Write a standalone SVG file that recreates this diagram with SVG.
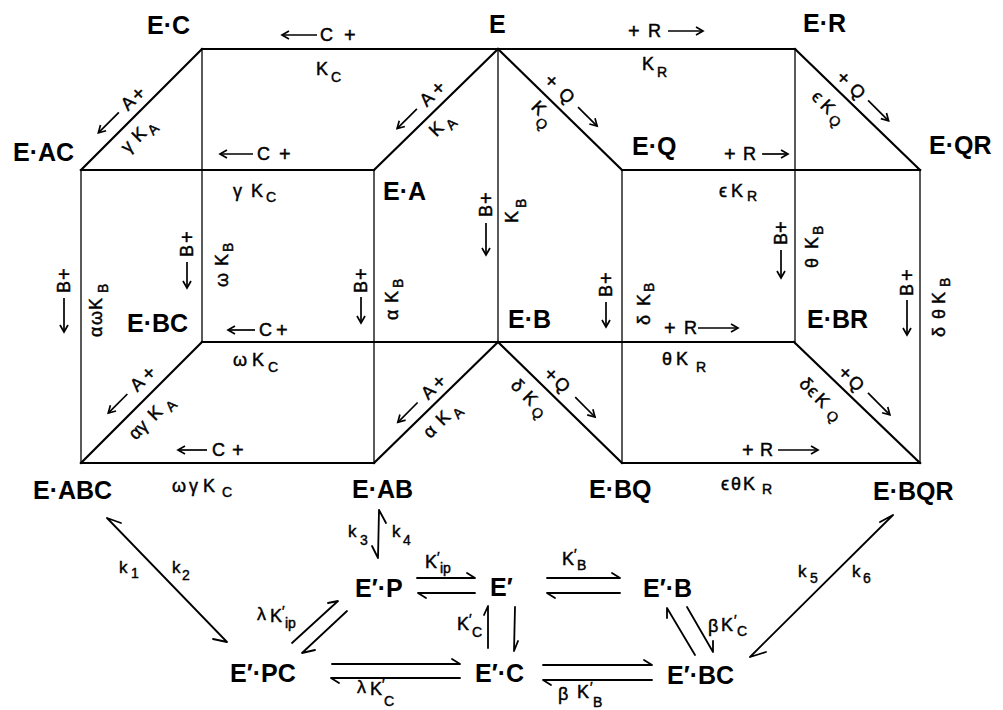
<svg xmlns="http://www.w3.org/2000/svg" width="1003" height="710" viewBox="0 0 1003 710">
<defs>
<style>
 .n{font-family:"Liberation Sans",Arial,sans-serif;font-weight:bold;font-size:25px;fill:#000}
 .t{font-family:"Liberation Sans","DejaVu Sans",sans-serif;font-size:18px;fill:#000;stroke:#000;stroke-width:0.45}
 .s{font-size:14px}
 .p{font-size:14px}
 .pl{font-size:20px}
 .k{font-family:"Liberation Sans",sans-serif;font-size:17px;fill:#000;stroke:#000;stroke-width:0.4}
 .edge{stroke:#000;fill:none;stroke-linecap:square}
 .w{stroke-width:2.2}
 .v{stroke-width:1.3}
 .a{stroke:#000;stroke-width:1.7;fill:none;marker-end:url(#ah)}
 .h{stroke:#000;stroke-width:1.8;fill:none;stroke-linecap:round;stroke-linejoin:round}
</style>
<marker id="ah" viewBox="-9 -5 10 10" refX="0" refY="0" markerWidth="10" markerHeight="10" markerUnits="userSpaceOnUse" orient="auto" overflow="visible">
 <path d="M-7,-4 L0,0 L-7,4" fill="none" stroke="#000" stroke-width="1.7"/>
</marker>
</defs>
<rect width="1003" height="710" fill="#fff"/>

<!-- binding network: edges of the two cubes -->
<g id="connectors">
 <g class="edge w">
  <path d="M202,49 H795"/>
  <path d="M81,170 H374"/>
  <path d="M622,170 H920"/>
  <path d="M202,342 H794"/>
  <path d="M81,463 H374"/>
  <path d="M622,463 H920"/>
  <path d="M202,49 L81,170"/>
  <path d="M498,49 L374,170"/>
  <path d="M498,49 L622,170"/>
  <path d="M795,49 L920,170"/>
  <path d="M202,342 L81,463"/>
  <path d="M498,342 L374,463"/>
  <path d="M498,342 L622,463"/>
  <path d="M794,342 L920,463"/>
 </g>
 <g class="edge v">
  <path d="M202,49 V342"/>
  <path d="M498,49 V342"/>
  <path d="M795,49 V342"/>
  <path d="M81,170 V463"/>
  <path d="M374,170 V463"/>
  <path d="M622,170 V463"/>
  <path d="M920,170 V463"/>
 </g>
 <!-- isomerized-enzyme steps: half-headed reaction arrows -->
 <g class="h">
  <path d="M107,518 L227,642 M107,518 L121,523 M227,642 L213,639"/>
  <path d="M379,510 L378,558 M379,510 L386,523 M378,558 L372,546"/>
  <path d="M417,578 H475 L467,573 M475,593 H418 L426,598"/>
  <path d="M547,578 H620 L612,573 M620,593 H547 L555,598"/>
  <path d="M332,664 H460 L452,659 M460,678 H331 L339,683"/>
  <path d="M543,665 H652 L644,660 M652,680 H543 L551,685"/>
  <path d="M488,648 V606 L484,615 M515,607 L514,651 L518,641"/>
  <path d="M292,643 L338,601 L328,603 M347,611 L302,653 L315,650"/>
  <path d="M695,655 L667,608 L667,618 M687,607 L713,652 L713,641"/>
  <path d="M750,657 L893,515 L880,522 M750,657 L766,652"/>
 </g>
</g>

<!-- edge labels -->
<g id="edge-labels">
 <!-- horizontal: C and R additions -->
 <line class="a" x1="317" y1="35" x2="282" y2="35"/>
 <text class="t"><tspan x="320" y="41">C</tspan><tspan class="pl" x="344" y="42">+</tspan></text>
 <text class="t"><tspan x="316" y="75">K</tspan><tspan class="s" x="331" y="82">C</tspan></text>

 <text class="t"><tspan class="pl" x="628" y="38">+</tspan><tspan x="648" y="37">R</tspan></text>
 <line class="a" x1="668" y1="31" x2="703" y2="31"/>
 <text class="t"><tspan x="642" y="70">K</tspan><tspan class="s" x="657" y="77">R</tspan></text>

 <line class="a" x1="253" y1="154" x2="220" y2="154"/>
 <text class="t"><tspan x="257" y="160">C</tspan><tspan class="pl" x="279" y="161">+</tspan></text>
 <text class="t"><tspan x="233" y="197">γ</tspan><tspan x="251" y="197">K</tspan><tspan class="s" x="266" y="202">C</tspan></text>

 <line class="a" x1="255" y1="330" x2="228" y2="330"/>
 <text class="t"><tspan x="259" y="336">C</tspan><tspan class="pl" x="276" y="337">+</tspan></text>
 <text class="t"><tspan x="233" y="366">ω</tspan><tspan x="252" y="366">K</tspan><tspan class="s" x="268" y="372">C</tspan></text>

 <line class="a" x1="207" y1="450" x2="178" y2="450"/>
 <text class="t"><tspan x="212" y="456">C</tspan><tspan class="pl" x="232" y="457">+</tspan></text>
 <text class="t"><tspan x="172" y="492">ω</tspan><tspan x="189" y="492">γ</tspan><tspan x="203" y="492">K</tspan><tspan class="s" x="222" y="497">C</tspan></text>

 <text class="t"><tspan class="pl" x="724" y="161">+</tspan><tspan x="743" y="160">R</tspan></text>
 <line class="a" x1="762" y1="154" x2="788" y2="154"/>
 <text class="t"><tspan x="719" y="197">ϵ</tspan><tspan x="731" y="197">K</tspan><tspan class="s" x="747" y="201">R</tspan></text>

 <text class="t"><tspan class="pl" x="664" y="335">+</tspan><tspan x="684" y="334">R</tspan></text>
 <line class="a" x1="698" y1="328" x2="738" y2="328"/>
 <text class="t"><tspan x="662" y="365">θ</tspan><tspan x="676" y="365">K</tspan><tspan class="s" x="696" y="372">R</tspan></text>

 <text class="t"><tspan class="pl" x="742" y="457">+</tspan><tspan x="760" y="456">R</tspan></text>
 <line class="a" x1="778" y1="450" x2="818" y2="450"/>
 <text class="t"><tspan x="721" y="490">ϵ</tspan><tspan x="731" y="490">θ</tspan><tspan x="743" y="490">K</tspan><tspan class="s" x="762" y="494">R</tspan></text>

 <!-- diagonal: A additions -->
 <g transform="translate(141.5,109.5) rotate(-45)">
  <line class="a" x1="-18" y1="-14" x2="-47" y2="-14"/>
  <text class="t"><tspan x="-11" y="-8">A</tspan><tspan class="pl" x="3" y="-7">+</tspan></text>
  <text class="t"><tspan x="-41" y="22">γ</tspan><tspan x="-25.5" y="22">K</tspan><tspan class="s" x="-10.5" y="27">A</tspan></text>
 </g>
 <g transform="translate(436,109.5) rotate(-45)">
  <line class="a" x1="-13" y1="-14" x2="-41" y2="-14"/>
  <text class="t"><tspan x="-5" y="-8">A</tspan><tspan class="pl" x="11" y="-7">+</tspan></text>
  <text class="t"><tspan x="-19.5" y="20">K</tspan><tspan class="s" x="-4" y="26">A</tspan></text>
 </g>
 <g transform="translate(141.5,402.5) rotate(-45)">
  <line class="a" x1="-4" y1="-16" x2="-31" y2="-16"/>
  <text class="t"><tspan x="4" y="-10">A</tspan><tspan class="pl" x="20" y="-9">+</tspan></text>
  <text class="t"><tspan x="-31" y="23">α</tspan><tspan x="-21" y="23">γ</tspan><tspan x="-4" y="23">K</tspan><tspan class="s" x="14" y="28">A</tspan></text>
 </g>
 <g transform="translate(436,402.5) rotate(-45)">
  <line class="a" x1="-13" y1="-13" x2="-41" y2="-13"/>
  <text class="t"><tspan x="-4" y="-7">A</tspan><tspan class="pl" x="11" y="-6">+</tspan></text>
  <text class="t"><tspan x="-30" y="22">α</tspan><tspan x="-12" y="22">K</tspan><tspan class="s" x="3.5" y="28">A</tspan></text>
 </g>

 <!-- diagonal: Q additions -->
 <g transform="translate(560,109.5) rotate(45)">
  <text class="t"><tspan class="pl" x="-32" y="-7.5">+</tspan><tspan x="-12" y="-8.5">Q</tspan></text>
  <line class="a" x1="11" y1="-14.5" x2="38" y2="-14.5"/>
  <text class="t"><tspan x="-22" y="20">K</tspan><tspan class="s" x="-8.5" y="28">Q</tspan></text>
 </g>
 <g transform="translate(857.5,109.5) rotate(45)">
  <text class="t"><tspan class="pl" x="-38" y="-6">+</tspan><tspan x="-20" y="-7">Q</tspan></text>
  <line class="a" x1="1" y1="-14" x2="30" y2="-14"/>
  <text class="t"><tspan x="-41.5" y="25">ϵ</tspan><tspan x="-29" y="25">K</tspan><tspan class="s" x="-13.5" y="29">Q</tspan></text>
 </g>
 <g transform="translate(560,402.5) rotate(45)">
  <text class="t"><tspan class="pl" x="-32" y="-7">+</tspan><tspan x="-18" y="-8">Q</tspan></text>
  <line class="a" x1="7" y1="-14.5" x2="35" y2="-14.5"/>
  <text class="t"><tspan x="-47" y="24">δ</tspan><tspan x="-30" y="24">K</tspan><tspan class="s" x="-14" y="28">Q</tspan></text>
 </g>
 <g transform="translate(857,402.5) rotate(45)">
  <text class="t"><tspan class="pl" x="-35" y="-6">+</tspan><tspan x="-21" y="-7">Q</tspan></text>
  <line class="a" x1="1" y1="-14.5" x2="32" y2="-14.5"/>
  <text class="t"><tspan x="-54" y="29">δ</tspan><tspan x="-43" y="29">ϵ</tspan><tspan x="-32" y="29">K</tspan><tspan class="s" x="-13" y="32">Q</tspan></text>
 </g>

 <!-- vertical: B additions -->
 <g transform="translate(70,332) rotate(-90)">
  <line class="a" x1="34" y1="-6" x2="0" y2="-6"/>
  <text class="t"><tspan x="39" y="0">B</tspan><tspan class="pl" x="52" y="1">+</tspan></text>
 </g>
 <g transform="translate(102,337) rotate(-90)">
  <text class="t"><tspan x="0" y="0">α</tspan><tspan x="12" y="0">ω</tspan><tspan x="27" y="0">K</tspan><tspan class="s" x="44" y="6">B</tspan></text>
 </g>
 <g transform="translate(193,288) rotate(-90)">
  <line class="a" x1="26" y1="-6" x2="0" y2="-6"/>
  <text class="t"><tspan x="31" y="0">B</tspan><tspan class="pl" x="45" y="1">+</tspan></text>
 </g>
 <g transform="translate(228,287) rotate(-90)">
  <text class="t"><tspan x="0" y="0">ω</tspan><tspan x="21" y="0">K</tspan><tspan class="s" x="35" y="5">B</tspan></text>
 </g>
 <g transform="translate(367,323) rotate(-90)">
  <line class="a" x1="26" y1="-6" x2="0" y2="-6"/>
  <text class="t"><tspan x="30" y="0">B</tspan><tspan class="pl" x="43" y="1">+</tspan></text>
 </g>
 <g transform="translate(398,320) rotate(-90)">
  <text class="t"><tspan x="0" y="0">α</tspan><tspan x="17" y="0">K</tspan><tspan class="s" x="32" y="5">B</tspan></text>
 </g>
 <g transform="translate(492,255) rotate(-90)">
  <line class="a" x1="32" y1="-6" x2="0" y2="-6"/>
  <text class="t"><tspan x="38" y="0">B</tspan><tspan class="pl" x="51" y="1">+</tspan></text>
 </g>
 <g transform="translate(518,223) rotate(-90)">
  <text class="t"><tspan x="0" y="0">K</tspan><tspan class="s" x="15" y="8">B</tspan></text>
 </g>
 <g transform="translate(612,327) rotate(-90)">
  <line class="a" x1="25" y1="-6" x2="0" y2="-6"/>
  <text class="t"><tspan x="30" y="0">B</tspan><tspan class="pl" x="43" y="1">+</tspan></text>
 </g>
 <g transform="translate(650,325) rotate(-90)">
  <text class="t"><tspan x="0" y="0">δ</tspan><tspan x="19" y="0">K</tspan><tspan class="s" x="33" y="4">B</tspan></text>
 </g>
 <g transform="translate(787,278) rotate(-90)">
  <line class="a" x1="28" y1="-6" x2="0" y2="-6"/>
  <text class="t"><tspan x="33" y="0">B</tspan><tspan class="pl" x="45" y="1">+</tspan></text>
 </g>
 <g transform="translate(818,268) rotate(-90)">
  <text class="t"><tspan x="0" y="0">θ</tspan><tspan x="19" y="0">K</tspan><tspan class="s" x="33" y="5">B</tspan></text>
 </g>
 <g transform="translate(913,335) rotate(-90)">
  <line class="a" x1="35" y1="-6" x2="0" y2="-6"/>
  <text class="t"><tspan x="39" y="0">B</tspan><tspan class="pl" x="54" y="1">+</tspan></text>
 </g>
 <g transform="translate(945,337) rotate(-90)">
  <text class="t"><tspan x="0" y="0">δ</tspan><tspan x="18" y="0">θ</tspan><tspan x="33" y="0">K</tspan><tspan class="s" x="50" y="5">B</tspan></text>
 </g>

 <!-- rate constants of the lower scheme -->
 <text class="k"><tspan x="119" y="573">k</tspan><tspan class="s" x="131" y="578">1</tspan></text>
 <text class="k"><tspan x="172" y="573">k</tspan><tspan class="s" x="182" y="580">2</tspan></text>
 <text class="k"><tspan x="348" y="537">k</tspan><tspan class="s" x="360" y="545">3</tspan></text>
 <text class="k"><tspan x="392" y="537">k</tspan><tspan class="s" x="403" y="545">4</tspan></text>
 <text class="k"><tspan x="798" y="577">k</tspan><tspan class="s" x="810" y="583">5</tspan></text>
 <text class="k"><tspan x="852" y="577">k</tspan><tspan class="s" x="863" y="583">6</tspan></text>
 <text class="t"><tspan x="425" y="568">K</tspan><tspan class="p" x="437" y="562">′</tspan><tspan class="s" x="440" y="573">ip</tspan></text>
 <text class="t"><tspan x="562" y="565">K</tspan><tspan class="p" x="574" y="559">′</tspan><tspan class="s" x="577" y="570">B</tspan></text>
 <text class="t"><tspan x="257" y="620">λ</tspan><tspan x="270" y="622">K</tspan><tspan class="p" x="282" y="616">′</tspan><tspan class="s" x="285" y="628">ip</tspan></text>
 <text class="t"><tspan x="457" y="630">K</tspan><tspan class="p" x="469" y="624">′</tspan><tspan class="s" x="472" y="637">C</tspan></text>
 <text class="t"><tspan x="357" y="693">λ</tspan><tspan x="370" y="695">K</tspan><tspan class="p" x="382" y="689">′</tspan><tspan class="s" x="384" y="706">C</tspan></text>
 <text class="t"><tspan x="558" y="700">β</tspan><tspan x="577" y="698">K</tspan><tspan class="p" x="590" y="692">′</tspan><tspan class="s" x="593" y="707">B</tspan></text>
 <text class="t"><tspan x="708" y="632">β</tspan><tspan x="721" y="631">K</tspan><tspan class="p" x="734" y="625">′</tspan><tspan class="s" x="737" y="636">C</tspan></text>
</g>

<!-- enzyme species -->
<g id="E"><text class="n" x="489" y="33">E</text></g>
<g id="EC"><text class="n" x="147" y="34">E·C</text></g>
<g id="ER"><text class="n" x="803" y="32">E·R</text></g>
<g id="EAC"><text class="n" x="13" y="161">E·AC</text></g>
<g id="EA"><text class="n" x="383" y="200">E·A</text></g>
<g id="EQ"><text class="n" x="632" y="155">E·Q</text></g>
<g id="EQR"><text class="n" x="929" y="154">E·QR</text></g>
<g id="EBC"><text class="n" x="127" y="332">E·BC</text></g>
<g id="EB"><text class="n" x="508" y="328">E·B</text></g>
<g id="EBR"><text class="n" x="807" y="328">E·BR</text></g>
<g id="EABC"><text class="n" x="33" y="499">E·ABC</text></g>
<g id="EAB"><text class="n" x="352" y="498">E·AB</text></g>
<g id="EBQ"><text class="n" x="589" y="498">E·BQ</text></g>
<g id="EBQR"><text class="n" x="873" y="500">E·BQR</text></g>
<g id="EpP"><text class="n" x="355" y="597">E′·P</text></g>
<g id="Ep"><text class="n" x="490" y="596">E′</text></g>
<g id="EpB"><text class="n" x="643" y="597">E′·B</text></g>
<g id="EpPC"><text class="n" x="230" y="682">E′·PC</text></g>
<g id="EpC"><text class="n" x="475" y="682">E′·C</text></g>
<g id="EpBC"><text class="n" x="667" y="684">E′·BC</text></g>
</svg>
